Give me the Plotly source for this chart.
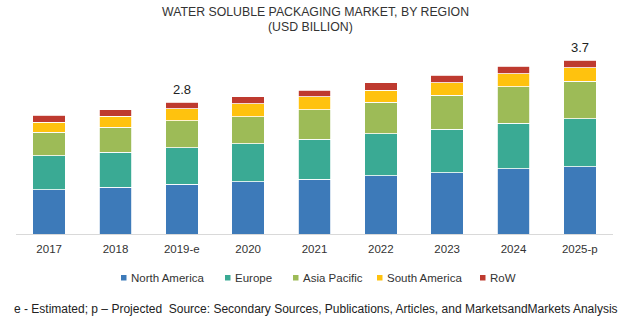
import plotly.graph_objects as go

# Market size by region, USD billion
years = ["2017", "2018", "2019-e", "2020", "2021", "2022", "2023", "2024", "2025-p"]
north_america = [0.94, 0.99, 1.06, 1.11, 1.17, 1.24, 1.30, 1.39, 1.43]
europe = [0.72, 0.75, 0.78, 0.81, 0.85, 0.89, 0.93, 0.97, 1.02]
asia_pacific = [0.50, 0.53, 0.57, 0.58, 0.62, 0.67, 0.72, 0.77, 0.80]
south_america = [0.22, 0.24, 0.25, 0.27, 0.28, 0.26, 0.27, 0.28, 0.29]
row = [0.15, 0.13, 0.14, 0.15, 0.14, 0.16, 0.16, 0.16, 0.16]

labelled_years = ["2019-e", "2025-p"]

series = [
    ("North America", north_america, "#3D7AB9"),
    ("Europe", europe, "#3AAA94"),
    ("Asia Pacific", asia_pacific, "#9DBB57"),
    ("South America", south_america, "#FFC20E"),
    ("RoW", row, "#BE3A2F"),
]

W, H = 624, 332
ML, MR, MT, MB = 16, 11, 46, 98
PW, PH = W - ML - MR, H - MT - MB


def px_x(px):
    """Pixel column -> paper x."""
    return (px - ML) / PW


def px_y(py):
    """Pixel row -> paper y."""
    return (H - MB - py) / PH


FONT = "Liberation Sans"

fig = go.Figure()
for name, vals, color in series:
    fig.add_trace(go.Bar(
        name=name, x=years, y=vals, showlegend=False,
        marker=dict(color=color, line=dict(color="white", width=0.8)),
    ))

# Value labels above the estimated and projected totals
totals = [sum(v) for v in zip(*[s[1] for s in series])]
for yr in labelled_years:
    i = years.index(yr)
    fig.add_annotation(
        x=yr, y=totals[i], text=f"{totals[i]:.1f}", showarrow=False,
        yanchor="bottom", yshift=3,
        font=dict(family=FONT, size=13, color="#222"),
    )

# Compact legend: small square swatch followed by the region name
legend_left = [121, 225, 293, 377, 480]
for (name, _, color), left in zip(series, legend_left):
    fig.add_shape(
        type="rect", xref="paper", yref="paper",
        x0=px_x(left), x1=px_x(left + 5.5), y0=px_y(280.5), y1=px_y(275),
        fillcolor=color, line=dict(width=0),
    )
    fig.add_annotation(
        text=name, xref="paper", yref="paper", x=px_x(left + 7.5), y=px_y(278),
        xanchor="left", yanchor="middle", showarrow=False,
        font=dict(family=FONT, size=11.5, color="#333"),
    )

# Two-line title
fig.add_annotation(
    text="WATER SOLUBLE PACKAGING MARKET, BY REGION", xref="paper", yref="paper",
    x=px_x(315), y=px_y(12), xanchor="center", yanchor="middle", showarrow=False,
    font=dict(family=FONT, size=12.3, color="#333"),
)
fig.add_annotation(
    text="(USD BILLION)", xref="paper", yref="paper",
    x=px_x(310), y=px_y(27), xanchor="center", yanchor="middle", showarrow=False,
    font=dict(family=FONT, size=12.3, color="#333"),
)

fig.add_annotation(
    text="e - Estimated; p – Projected  Source: Secondary Sources, Publications, Articles, and MarketsandMarkets Analysis",
    xref="paper", yref="paper", x=px_x(316), y=px_y(309), showarrow=False,
    xanchor="center", yanchor="middle",
    font=dict(family=FONT, size=12, color="#222"),
)

fig.update_layout(
    barmode="stack",
    bargap=0.51,
    width=W, height=H,
    margin=dict(l=ML, r=MR, t=MT, b=MB),
    paper_bgcolor="white", plot_bgcolor="white",
    showlegend=False,
    xaxis=dict(
        showline=True, linecolor="#D9D9D9", linewidth=1,
        tickfont=dict(family=FONT, size=11.5, color="#333"),
        ticks="outside", ticklen=4, tickcolor="white",
    ),
    yaxis=dict(range=[0, 4.0], visible=False, showgrid=False),
)

fig.write_html("out.html")
